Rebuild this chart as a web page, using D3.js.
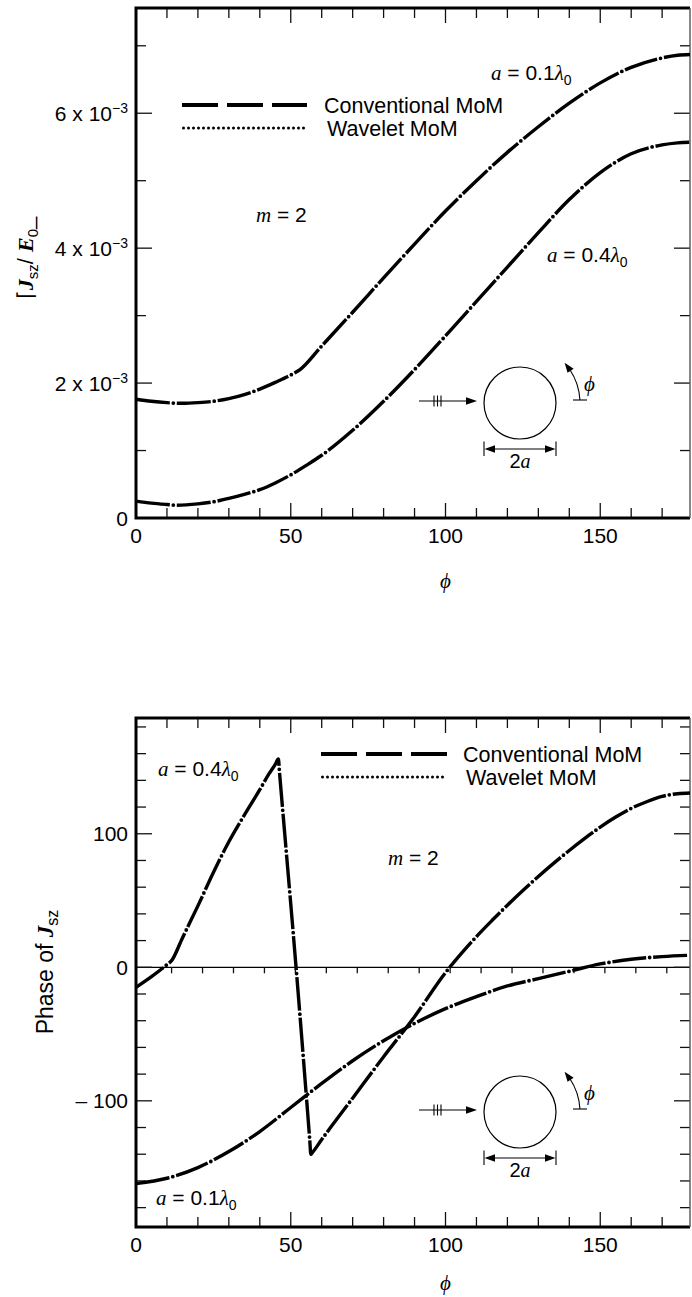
<!DOCTYPE html>
<html><head><meta charset="utf-8">
<script src="https://cdn.jsdelivr.net/npm/d3@7"></script>
<style>
body{margin:0;background:#fff;}
svg{display:block;}
text{font-family:"Liberation Sans",Arial,Helvetica,sans-serif;fill:#000;}
.it{font-family:"Liberation Serif","Times New Roman",serif;font-style:italic;}
.bi{font-family:"Liberation Serif","Times New Roman",serif;font-style:italic;font-weight:bold;}
</style></head><body>
<svg id="c" width="692" height="1297"></svg>
<script>
// ---------- data ----------
const xTicks = d3.range(0, 180, 10);
const xTickLabels = [0, 50, 100, 150];
const magYTicks = [1, 2, 3, 4, 5, 6, 7];          // units of 1e-3
const magYLabels = [0, 2, 4, 6];
const phaseYTicks = d3.range(-180, 181, 20);
const phaseYLabels = [-100, 0, 100];

// |Jsz/E0| (x 1e-3), a = 0.1 lambda0
const magPhiA01 = [0,5,10,15,20,25,30,35,40,45,50,53,60,70,80,90,100,110,120,130,140,150,160,170,175,179];
const magA01    = [1.76,1.73,1.71,1.70,1.71,1.73,1.77,1.83,1.91,2.01,2.12,2.20,2.55,3.05,3.56,4.06,4.55,5.00,5.42,5.80,6.15,6.45,6.68,6.82,6.86,6.87];
// |Jsz/E0| (x 1e-3), a = 0.4 lambda0
const magPhiA04 = [0,5,10,13,20,25,30,35,40,45,50,55,60,70,80,90,100,110,120,130,140,150,160,170,175,179];
const magA04    = [0.25,0.22,0.20,0.19,0.21,0.24,0.29,0.35,0.42,0.52,0.64,0.78,0.93,1.30,1.73,2.20,2.70,3.21,3.72,4.23,4.72,5.12,5.40,5.53,5.56,5.57];

// Phase of Jsz (deg), a = 0.4 lambda0
const phPhiA04 = [0,5,10,11.5,15,20,25,30,35,40,43,45,46,46.4,52,56.1,56.5,56.9,60,70,80,90,100,105,110,115,120,125,130,135,140,145,150,155,160,165,170,175,179];
const phA04    = [-15,-7,2,5,22,46,71,94,114,133,145,152,156,145,-8,-128,-140,-139,-129,-98,-67,-37,-4,10,23,35,46.5,57.5,68,78,87.5,96.5,105,112.5,119,124,128,130,130.5];
// Phase of Jsz (deg), a = 0.1 lambda0
const phPhiA01 = [0,10,20,30,40,50,60,70,80,90,100,110,120,130,140,150,160,170,179];
const phA01    = [-162,-158,-150,-138,-123,-105,-87,-70,-55,-42,-31,-22,-14,-8.5,-3,2.5,6,8,9];

// ---------- layout ----------
const svg = d3.select('#c');
const L = 136, R = 690;
const x = d3.scaleLinear().domain([0, 179]).range([L, R]);
const top1 = {top: 8, bottom: 518};
const yMag = d3.scaleLinear().domain([0, 7.56]).range([518, 8]);
const top2 = {top: 718, bottom: 1227};
const yPh = d3.scaleLinear().domain([-194.5, 186.7]).range([1227, 718]);

function frame(g, y0, y1, yScale, yTicks, isMajor) {
  xTicks.filter(d => d > 0).forEach(d => {
    const len = d % 50 === 0 ? 15 : 10;
    g.append('line').attr('x1', x(d)).attr('x2', x(d)).attr('y1', y1).attr('y2', y1 - len)
      .attr('stroke', '#111').attr('stroke-width', 1.3);
    g.append('line').attr('x1', x(d)).attr('x2', x(d)).attr('y1', y0).attr('y2', y0 + len)
      .attr('stroke', '#111').attr('stroke-width', 1.3);
  });
  yTicks.forEach(d => {
    const yy = yScale(d);
    if (yy <= y0 + 2 || yy >= y1 - 2) return;
    const len = isMajor(d) ? 16 : 10;
    g.append('line').attr('x1', L).attr('x2', L + len).attr('y1', yy).attr('y2', yy)
      .attr('stroke', '#111').attr('stroke-width', 1.3);
    g.append('line').attr('x1', R).attr('x2', R - len).attr('y1', yy).attr('y2', yy)
      .attr('stroke', '#111').attr('stroke-width', 1.3);
  });
  g.append('path').attr('d', `M${R},${y0} L${L},${y0} L${L},${y1} L${R},${y1}`)
    .attr('fill', 'none').attr('stroke', '#000').attr('stroke-width', 3);
  g.append('line').attr('x1', R).attr('x2', R).attr('y1', y0).attr('y2', y1)
    .attr('stroke', '#555').attr('stroke-width', 1.4);
  xTickLabels.forEach(d => {
    g.append('text').attr('x', x(d)).attr('y', y1 + 25).attr('text-anchor', 'middle')
      .attr('font-size', 21).text(d);
  });
}

function series(g, xs, ys, yScale, curve) {
  const data = xs.map((p, i) => [p, ys[i]]);
  const ln = d3.line().x(d => x(d[0])).y(d => yScale(d[1])).curve(curve);
  // Conventional MoM (long dashes)
  g.append('path').attr('d', ln(data)).attr('fill', 'none').attr('stroke', '#000')
    .attr('stroke-width', 3.4).attr('stroke-dasharray', '34 7');
  // Wavelet MoM (dots)
  g.append('path').attr('d', ln(data)).attr('fill', 'none').attr('stroke', '#000')
    .attr('stroke-width', 3.8).attr('stroke-linecap', 'round')
    .attr('stroke-dasharray', '0 41').attr('stroke-dashoffset', 3.5);
}

function legend(g, x0, x1, yDash, yDot, tx) {
  g.append('line').attr('x1', x0).attr('x2', x1).attr('y1', yDash).attr('y2', yDash)
    .attr('stroke', '#000').attr('stroke-width', 4).attr('stroke-dasharray', '36 9');
  g.append('text').attr('x', tx).attr('y', yDash + 7.5).attr('font-size', 21.5).text('Conventional MoM');
  g.append('line').attr('x1', x0 + 1.5).attr('x2', x1).attr('y1', yDot).attr('y2', yDot)
    .attr('stroke', '#000').attr('stroke-width', 3).attr('stroke-linecap', 'round')
    .attr('stroke-dasharray', '0 5');
  g.append('text').attr('x', tx + 3).attr('y', yDot + 7.5).attr('font-size', 21.5).text('Wavelet MoM');
}

function aLabel(g, xx, yy, val) {
  const t = g.append('text').attr('x', xx).attr('y', yy).attr('font-size', 21);
  t.append('tspan').attr('class', 'it').text('a');
  t.append('tspan').text(' = ' + val);
  t.append('tspan').attr('class', 'it').text('λ');
  t.append('tspan').attr('font-size', 14).attr('dy', 5).text('0');
}
function mLabel(g, xx, yy) {
  const t = g.append('text').attr('x', xx).attr('y', yy).attr('font-size', 21);
  t.append('tspan').attr('class', 'it').text('m');
  t.append('tspan').text(' = 2');
}

function inset(g, dy) {
  const s = g.append('g').attr('transform', `translate(0,${dy})`).attr('stroke', '#000').attr('fill', 'none');
  s.append('line').attr('x1', 419).attr('x2', 470).attr('y1', 401).attr('y2', 401).attr('stroke-width', 1.1);
  s.append('path').attr('d', 'M477,401 L466,397.3 L466,404.7 Z').attr('fill', '#000').attr('stroke', 'none');
  [434, 437.5, 441].forEach(h => s.append('line').attr('x1', h).attr('x2', h).attr('y1', 395.5).attr('y2', 406.5).attr('stroke-width', 1.1));
  s.append('circle').attr('cx', 520).attr('cy', 403).attr('r', 36).attr('stroke-width', 1.2);
  [484, 556].forEach(h => s.append('line').attr('x1', h).attr('x2', h).attr('y1', 441.5).attr('y2', 456).attr('stroke-width', 1.1));
  s.append('line').attr('x1', 490).attr('x2', 550).attr('y1', 449).attr('y2', 449).attr('stroke-width', 1.1);
  s.append('path').attr('d', 'M484.5,449 L495,445.3 L495,452.7 Z M555.5,449 L545,445.3 L545,452.7 Z').attr('fill', '#000').attr('stroke', 'none');
  s.append('line').attr('x1', 573).attr('x2', 587).attr('y1', 400).attr('y2', 400).attr('stroke-width', 1.1);
  const cx = 520, cy = 403, r = 60;
  const p = a => [cx + r * Math.cos(a * Math.PI / 180), cy - r * Math.sin(a * Math.PI / 180)];
  const a0 = p(2.87), a1 = p(34);
  s.append('path').attr('d', `M${a0[0]},${a0[1]} A${r},${r} 0 0 0 ${a1[0]},${a1[1]}`).attr('stroke-width', 1.1);
  const tip = p(42), bc = p(32.5);
  const nx = Math.cos(32.5 * Math.PI / 180), ny = -Math.sin(32.5 * Math.PI / 180);
  s.append('path').attr('d', `M${tip[0]},${tip[1]} L${bc[0] + 3.6 * nx},${bc[1] + 3.6 * ny} L${bc[0] - 3.6 * nx},${bc[1] - 3.6 * ny} Z`)
    .attr('fill', '#000').attr('stroke', 'none');
  g.append('text').attr('x', 584).attr('y', 391 + dy).attr('font-size', 21).attr('class', 'it').text('ϕ');
  const t2 = g.append('text').attr('x', 520).attr('y', 468 + dy).attr('font-size', 20).attr('text-anchor', 'middle');
  t2.append('tspan').text('2');
  t2.append('tspan').attr('class', 'it').text('a');
}

// ---------- top chart ----------
const g1 = svg.append('g');
frame(g1, top1.top, top1.bottom, yMag, magYTicks, d => d % 2 === 0);
series(g1, magPhiA01, magA01, yMag, d3.curveMonotoneX);
series(g1, magPhiA04, magA04, yMag, d3.curveMonotoneX);
magYLabels.forEach(d => {
  const t = g1.append('text').attr('x', 128).attr('y', yMag(d) + 7.5).attr('text-anchor', 'end').attr('font-size', 21);
  if (d === 0) { t.text('0'); return; }
  t.append('tspan').text(d + ' x 10');
  t.append('tspan').attr('font-size', 14).attr('dy', -8).text('−3');
});
g1.append('text').attr('x', x(100)).attr('y', 588).attr('text-anchor', 'middle').attr('font-size', 21).attr('class', 'it').text('ϕ');
{
  const t = g1.append('text').attr('transform', 'translate(33,258) rotate(-90)').attr('text-anchor', 'middle').attr('font-size', 22);
  t.append('tspan').text('⌈');
  t.append('tspan').attr('class', 'bi').text('J');
  t.append('tspan').attr('font-size', 15).attr('dy', 5).text('sz');
  t.append('tspan').attr('dy', -5).text('/ ');
  t.append('tspan').attr('class', 'bi').text('E');
  t.append('tspan').attr('font-size', 15).attr('dy', 5).text('0');
  t.append('tspan').attr('dy', -5).text('_');
}
legend(g1, 182, 307, 105, 128, 324);
aLabel(g1, 491, 80, '0.1');
aLabel(g1, 547, 262, '0.4');
mLabel(g1, 256, 222);
inset(g1, 0);

// ---------- bottom chart ----------
const g2 = svg.append('g');
g2.append('line').attr('x1', L).attr('x2', R).attr('y1', yPh(0)).attr('y2', yPh(0)).attr('stroke', '#000').attr('stroke-width', 1.3);
xTicks.filter(d => d > 0).forEach(d => {
  g2.append('line').attr('x1', x(d + 1.5)).attr('x2', x(d + 1.5)).attr('y1', yPh(0)).attr('y2', yPh(0) + 6)
    .attr('stroke', '#111').attr('stroke-width', 1.3);
});
frame(g2, top2.top, top2.bottom, yPh, phaseYTicks, d => d % 100 === 0);
series(g2, phPhiA01, phA01, yPh, d3.curveMonotoneX);
series(g2, phPhiA04, phA04, yPh, d3.curveMonotoneX);
phaseYLabels.forEach(d => {
  g2.append('text').attr('x', 128).attr('y', yPh(d) + 7.5).attr('text-anchor', 'end').attr('font-size', 21)
    .text(d < 0 ? '– ' + Math.abs(d) : d);
});
g2.append('text').attr('x', x(100)).attr('y', 1290).attr('text-anchor', 'middle').attr('font-size', 21).attr('class', 'it').text('ϕ');
{
  const t = g2.append('text').attr('transform', 'translate(53,972) rotate(-90)').attr('text-anchor', 'middle').attr('font-size', 23);
  t.append('tspan').text('Phase of ');
  t.append('tspan').attr('class', 'bi').text('J');
  t.append('tspan').attr('font-size', 16).attr('dy', 5).text('sz');
}
legend(g2, 321, 447, 754, 777, 463);
aLabel(g2, 158, 776, '0.4');
aLabel(g2, 156, 1205, '0.1');
mLabel(g2, 388, 865);
inset(g2, 709);
</script>
</body></html>
